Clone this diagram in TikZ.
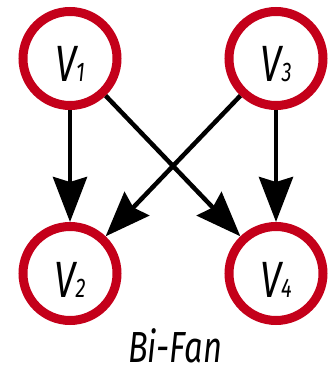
\documentclass[tikz,border=0pt]{standalone}
\usepackage{fontspec}
\setmainfont{Fira Sans}[FakeStretch=0.75]
\usetikzlibrary{arrows.meta}
\definecolor{ringred}{RGB}{196,0,26}
\newcommand{\vlab}[1]{{\fontsize{51pt}{51pt}\selectfont V}{\fontsize{27pt}{27pt}\selectfont #1}}
\begin{document}
\begin{tikzpicture}[x=1pt,y=-1pt,
  vert/.style={circle, draw=ringred, line width=9pt, minimum size=94pt, inner sep=0pt,
    text height=47pt, text depth=0pt, font=\itshape},
  edge/.style={line width=4.5pt, -{Stealth[length=45pt,width=34pt,inset=5pt]}}]
\useasboundingbox (0,0) rectangle (328,374);
\node[vert] (v1) at (70,58.5) {\vlab{1}};
\node[vert] (v3) at (276,58.5) {\vlab{3}};
\node[vert] (v2) at (70,273.5) {\vlab{2}};
\node[vert] (v4) at (276,273.5) {\vlab{4}};
\draw[edge] (v1) -- (v2);
\draw[edge] (v1) -- (v4);
\draw[edge] (v3) -- (v2);
\draw[edge] (v3) -- (v4);
\node[anchor=base, inner sep=0pt, font=\itshape\fontsize{43.5pt}{43.5pt}\selectfont] (cap) at (175,362) {Bi-Fan};
\end{tikzpicture}
\end{document}
